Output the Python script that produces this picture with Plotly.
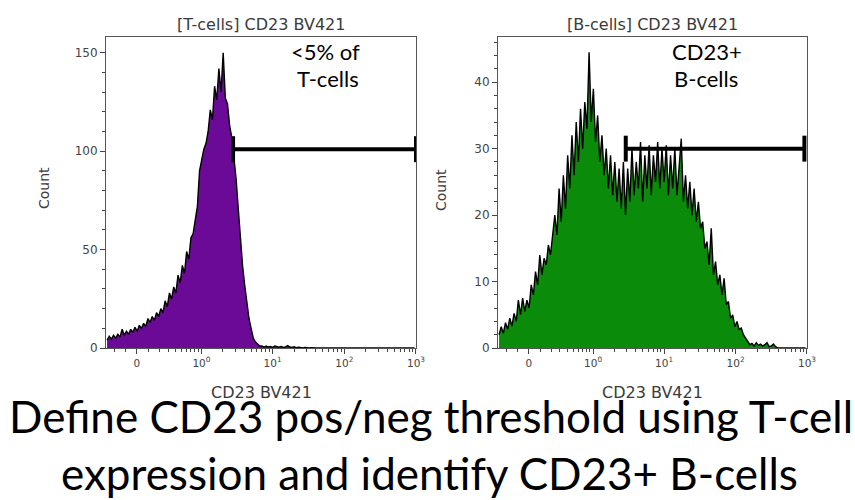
import numpy as np
import plotly.graph_objects as go

# ---------------- data ----------------
# histogram channel counts (display bins, evenly spaced on the biexponential display scale)
T_CELL_COUNTS = [
    4, 6, 4.5, 6.5, 5, 7, 5.5, 9.5, 6.5, 8.5,
    7, 9.5, 8, 10.5, 8.5, 11.5, 10, 12.5, 11, 15,
    13, 16, 14, 18, 16, 20, 18, 24, 21, 28,
    25, 31, 28, 37, 33, 42, 38, 49, 45, 56,
    58, 65, 72, 90, 96, 101, 104, 110, 121, 116,
    133, 126, 142, 130, 150, 127, 124, 113, 107, 98,
    86, 71, 56, 42, 32, 24, 15, 10, 5, 3,
    2, 1, 1, 0.5, 1, 0.5, 0.8, 0.3, 1, 0.5,
    0.4, 0.8, 0.3, 0.6, 1.2, 0.5, 0.3, 0.6, 0.2, 0.4,
    0.2, 0, 0.3, 0, 0, 0.2, 0, 0, 0, 0,
    0, 0, 0, 0, 0, 0, 0, 0, 0, 0,
    0, 0, 0, 0, 0, 0, 0, 0, 0, 0,
    0, 0, 0, 0, 0, 0, 0, 0, 0, 0,
    0, 0, 0, 0, 0, 0, 0, 0, 0, 0,
    0, 0, 0, 0,
]
B_CELL_COUNTS = [
    2, 3.2, 2.2, 3.8, 2.8, 4.5, 3.3, 5.2, 4, 7.2,
    5, 7.5, 5.5, 7.2, 6, 9.5, 8, 11.5, 9.5, 14,
    11, 13.5, 12.5, 15.5, 14, 17, 20, 17, 24, 19,
    26, 21, 29, 24, 32, 26, 34, 28, 36, 30,
    37, 33, 44.5, 34, 39, 31, 35, 28, 32, 26,
    30, 24, 29, 23, 28, 22, 27, 21, 28, 20,
    27, 22, 30, 23, 28, 24, 31, 22, 29, 24,
    30.5, 23, 29, 25, 31, 24, 30, 25, 30.5, 23,
    29, 24, 30, 23, 28, 31.5, 22, 26, 21, 25,
    20, 24, 19, 22, 18, 19, 15, 16, 12.5, 18,
    11, 13, 9.5, 11, 8, 10.5, 6.5, 7, 4.5, 5,
    3.2, 4, 2.8, 3, 2, 1.5, 1, 0.5, 0.7, 0.3,
    0.8, 0.4, 0.6, 0.3, 0.5, 0.8, 0.2, 0.3, 0.6, 0.2,
    0, 0, 0, 0, 0, 0, 0, 0, 0, 0,
    0, 0, 0, 0,
]
TICK_VALUES = [0, 1, 10, 100, 1000]
TICK_LABELS = ["0", "10<sup>0</sup>", "10<sup>1</sup>", "10<sup>2</sup>", "10<sup>3</sup>"]
MINOR_VALUES = ([-0.2, -0.1] + [k / 10 for k in range(1, 10)] + list(range(2, 10))
                + list(range(20, 100, 10)) + list(range(200, 1000, 100)))
T_GATE = [2.8, 1000]   # CD23 positive gate (linear units)
B_GATE = [2.9, 920]
T_GATE_Y = 101
B_GATE_Y = 30

# ---------------- scale ----------------
C = 0.256
LN10 = np.log(10)


def disp(v):
    return np.arcsinh(np.asarray(v, dtype=float) / C) / LN10


X_RANGE = [-0.432, 3.893]
BIN_W = 0.03


def centers(n):
    return X_RANGE[0] + (np.arange(n) + 0.5) * BIN_W


PURPLE = "#6a0a96"
GREEN = "#0a8c0a"
TXT = "#3a3a3a"
XTICKFONT = dict(family="DejaVu Sans", size=10.5, color="#444")
YTICKFONT = dict(family="DejaVu Sans", size=12, color="#444")

fig = go.Figure()
for counts, color, ax in [(T_CELL_COUNTS, PURPLE, "x"), (B_CELL_COUNTS, GREEN, "x2")]:
    xs = centers(len(counts))
    fig.add_trace(go.Scatter(
        x=xs, y=counts, mode="lines", fill="tozeroy", fillcolor=color,
        line=dict(color="black", width=1.4), xaxis=ax, yaxis="y" if ax == "x" else "y2",
        showlegend=False, hoverinfo="skip"))

W, H = 855, 500
xdom1 = [106 / W, 416 / W]
xdom2 = [498 / W, 807 / W]
ydom = [1 - 348 / H, 1 - 37 / H]

xcommon = dict(
    range=X_RANGE, tickmode="array", tickvals=disp(TICK_VALUES).tolist(), ticktext=TICK_LABELS,
    ticks="outside", ticklen=5, tickcolor="#444", tickwidth=1,
    minor=dict(tickmode="array", tickvals=disp(MINOR_VALUES).tolist(), ticks="outside",
               ticklen=3, tickcolor="#444", tickwidth=1, showgrid=False),
    showline=True, linecolor="#555", linewidth=1, mirror=True, showgrid=False,
    zeroline=False, tickfont=XTICKFONT, fixedrange=True)
ycommon = dict(ticks="outside", ticklen=5, tickcolor="#444", showline=True, linecolor="#555",
               mirror=True, showgrid=False, zeroline=False, tickfont=YTICKFONT, tickmode="linear",
               tick0=0, fixedrange=True)
fig.update_layout(
    width=W, height=H, margin=dict(l=0, r=0, t=0, b=0, autoexpand=False),
    paper_bgcolor="white", plot_bgcolor="white",
    xaxis=dict(domain=xdom1, anchor="y", automargin=False, **xcommon),
    xaxis2=dict(domain=xdom2, anchor="y2", automargin=False, **xcommon),
    yaxis=dict(domain=ydom, anchor="x", range=[0, 158], dtick=50, automargin=False,
               minor=dict(dtick=10, ticks="outside", ticklen=3, tickcolor="#444", showgrid=False),
               **ycommon),
    yaxis2=dict(domain=ydom, anchor="x2", range=[0, 46.8], dtick=10, automargin=False,
                minor=dict(dtick=2, ticks="outside", ticklen=3, tickcolor="#444", showgrid=False),
                **ycommon),
)

# gates
for gate, gy, xr, yr, cap in [(T_GATE, T_GATE_Y, "x", "y", 6.6), (B_GATE, B_GATE_Y, "x2", "y2", 1.95)]:
    g0, g1 = disp(gate).tolist()
    fig.add_shape(type="line", xref=xr, yref=yr, x0=g0, x1=g1, y0=gy, y1=gy,
                  line=dict(color="black", width=4))
    for gx in (g0, g1):
        fig.add_shape(type="line", xref=xr, yref=yr, x0=gx, x1=gx, y0=gy - cap, y1=gy + cap,
                      line=dict(color="black", width=4))

ann_font = dict(family="Lato", size=22, color="black")
panel_font = dict(family="DejaVu Sans", size=16, color=TXT)
big_font = dict(family="Lato", size=44, color="black")
cx1 = sum(xdom1) / 2
cx2 = sum(xdom2) / 2
anns = [
    dict(text="[T-cells] CD23 BV421", x=cx1, y=1 - 24 / H, font=panel_font),
    dict(text="[B-cells] CD23 BV421", x=cx2, y=1 - 24 / H, font=panel_font),
    dict(text="CD23 BV421", x=cx1, y=1 - 392 / H, font=panel_font),
    dict(text="CD23 BV421", x=cx2, y=1 - 392 / H, font=panel_font),
    dict(text="Count", x=44 / W, y=1 - 188 / H, font=dict(family="DejaVu Sans", size=14, color=TXT), textangle=-90),
    dict(text="Count", x=441 / W, y=1 - 190 / H, font=dict(family="DejaVu Sans", size=14, color=TXT), textangle=-90),
    dict(text="&lt;5% of", x=325 / W, y=1 - 51.5 / H, font=ann_font),
    dict(text="T-cells", x=328 / W, y=1 - 78.5 / H, font=ann_font),
    dict(text="CD23+", x=707 / W, y=1 - 51.5 / H, font=ann_font),
    dict(text="B-cells", x=706 / W, y=1 - 78.5 / H, font=ann_font),
    dict(text="Define CD23 pos/neg threshold using T-cell", x=431 / W, y=1 - 416 / H, font=big_font),
    dict(text="expression and identify CD23+ B-cells", x=429 / W, y=1 - 473 / H, font=big_font),
]
for a in anns:
    fig.add_annotation(xref="paper", yref="paper", showarrow=False, xanchor="center",
                       yanchor="middle", **a)

fig.write_html(
    "out.html", config={"displayModeBar": False, "staticPlot": True},
    post_script=("document.body.style.margin='0px';"
                 "document.body.style.overflow='hidden';"
                 "document.documentElement.style.overflow='hidden';"))
